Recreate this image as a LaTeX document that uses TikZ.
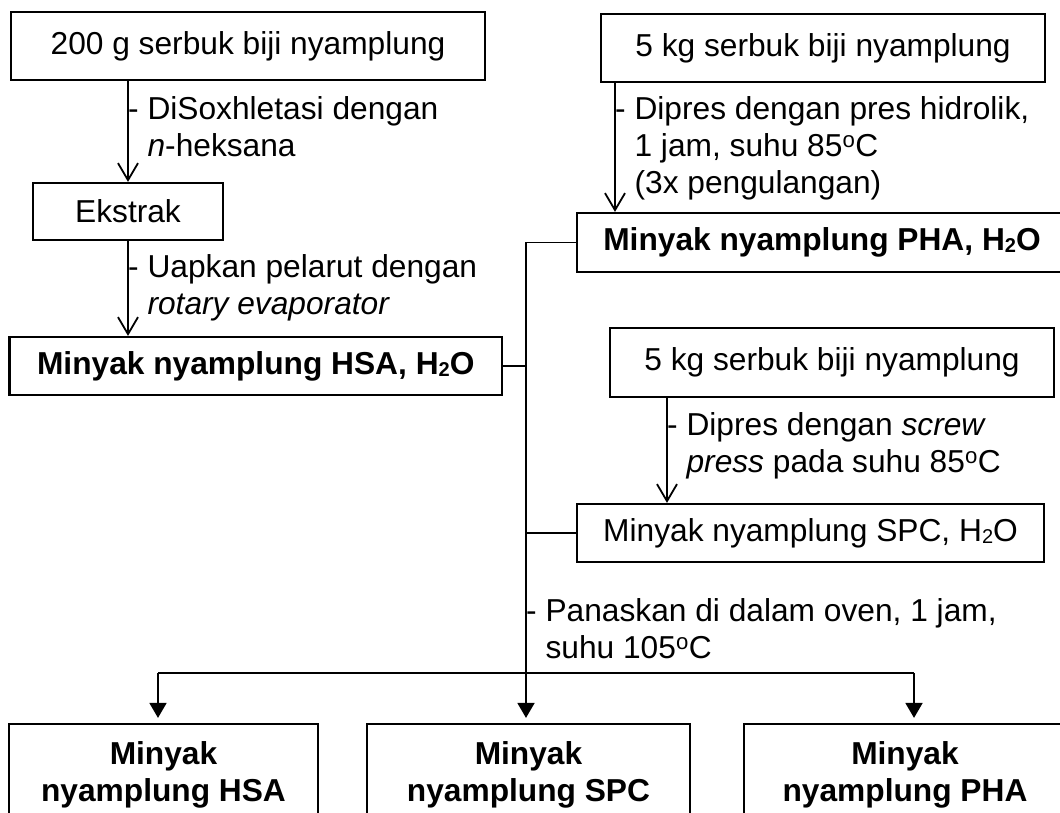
\documentclass[tikz,border=0pt]{standalone}
\usepackage{fontspec}
\setmainfont{Liberation Sans}
\usetikzlibrary{arrows.meta}
\newcommand{\subtwo}{\raisebox{-2pt}{\fontsize{20}{20}\selectfont 2}}
\begin{document}
\begin{tikzpicture}[x=1pt,y=-1pt,
  font=\fontsize{31.7}{37}\selectfont,
  box/.style={draw, line width=2.2pt, inner sep=0pt, anchor=center},
  boldtext/.style={font=\fontsize{31.7}{37}\selectfont\bfseries},
  lbl/.style={inner sep=0pt, anchor=north west, align=left},
  conn/.style={line width=1.8pt},
  openarr/.style={conn, -{Straight Barb[length=17pt,width=20pt]}},
  fillarr/.style={conn, -{Triangle[length=15pt,width=17pt]}, shorten >=5pt},
]
\useasboundingbox (0,0) rectangle (1060,812);
\fill[white] (0,0) rectangle (1060,812);
\clip (0,0) rectangle (1060,812);

% left column
\node[box, minimum width=474pt, minimum height=68pt] (b1) at (248,46) {200 g serbuk biji nyamplung};
\node[box, minimum width=190pt, minimum height=57pt] (ext) at (128,211.5) {Ekstrak};
\node[box, boldtext, minimum width=492.5pt, minimum height=58pt] (hsa) at (255.75,366) {Minyak nyamplung HSA, H\subtwo O};

% right column
\node[box, minimum width=444pt, minimum height=68pt] (b2) at (823,48) {5 kg serbuk biji nyamplung};
\node[box, boldtext, minimum width=490pt, minimum height=59pt] (pha) at (822,242.5) {Minyak nyamplung PHA, H\subtwo O};
\node[box, minimum width=444pt, minimum height=69pt] (b3) at (832,362.5) {5 kg serbuk biji nyamplung};
\node[box, minimum width=467pt, minimum height=58pt] (spc) at (810.5,533) {Minyak nyamplung SPC, H\subtwo O};

% bottom outputs
\node[box, boldtext, align=center, minimum width=309pt, minimum height=102pt] (oHSA) at (163.5,775) {Minyak\\nyamplung HSA};
\node[box, boldtext, align=center, minimum width=323pt, minimum height=102pt] (oSPC) at (528.5,775) {Minyak\\nyamplung SPC};
\node[box, boldtext, align=center, minimum width=322pt, minimum height=102pt] (oPHA) at (905,775) {Minyak\\nyamplung PHA};

% helper coordinates
\coordinate (c3) at (615,0);
\coordinate (c4) at (667,0);
\coordinate (tt) at (526,242.5);
\coordinate (j) at (526,673);
\coordinate (jl) at (158,673);
\coordinate (jr) at (914,673);

% arrows
\draw[openarr] (ext.north |- b1.south) -- (ext.north);
\draw[openarr] (ext.south) -- (ext.south |- hsa.north);
\draw[openarr] (b2.south -| c3) -- (pha.north -| c3);
\draw[openarr] (b3.south -| c4) -- (spc.north -| c4);

% trunk
\draw[conn] (pha.west) -- (tt) -- (j);
\draw[conn] (hsa.east) -- (hsa.east -| tt);
\draw[conn] (spc.west) -- (spc.west -| tt);
\draw[conn] (jl) -- (jr);
\draw[fillarr] (j) -- (j |- oSPC.north);
\draw[fillarr] (jl) -- (jl |- oHSA.north);
\draw[fillarr] (jr) -- (jr |- oPHA.north);

% labels
\node[lbl] (l1) at (128,96) {- DiSoxhletasi dengan\\\hphantom{- }\textit{n}-heksana};
\node[lbl] (l2) at (128,254) {- Uapkan pelarut dengan\\\hphantom{- }\textit{rotary evaporator}};
\node[lbl] (l3) at (615,96) {- Dipres dengan pres hidrolik,\\\hphantom{- }1 jam, suhu 85\textsuperscript{o}C\\\hphantom{- }(3x pengulangan)};
\node[lbl] (l4) at (667,412) {- Dipres dengan \textit{screw}\\\hphantom{- }\textit{press} pada suhu 85\textsuperscript{o}C};
\node[lbl] (l5) at (526,598) {- Panaskan di dalam oven, 1 jam,\\\hphantom{- }suhu 105\textsuperscript{o}C};
\end{tikzpicture}
\end{document}
